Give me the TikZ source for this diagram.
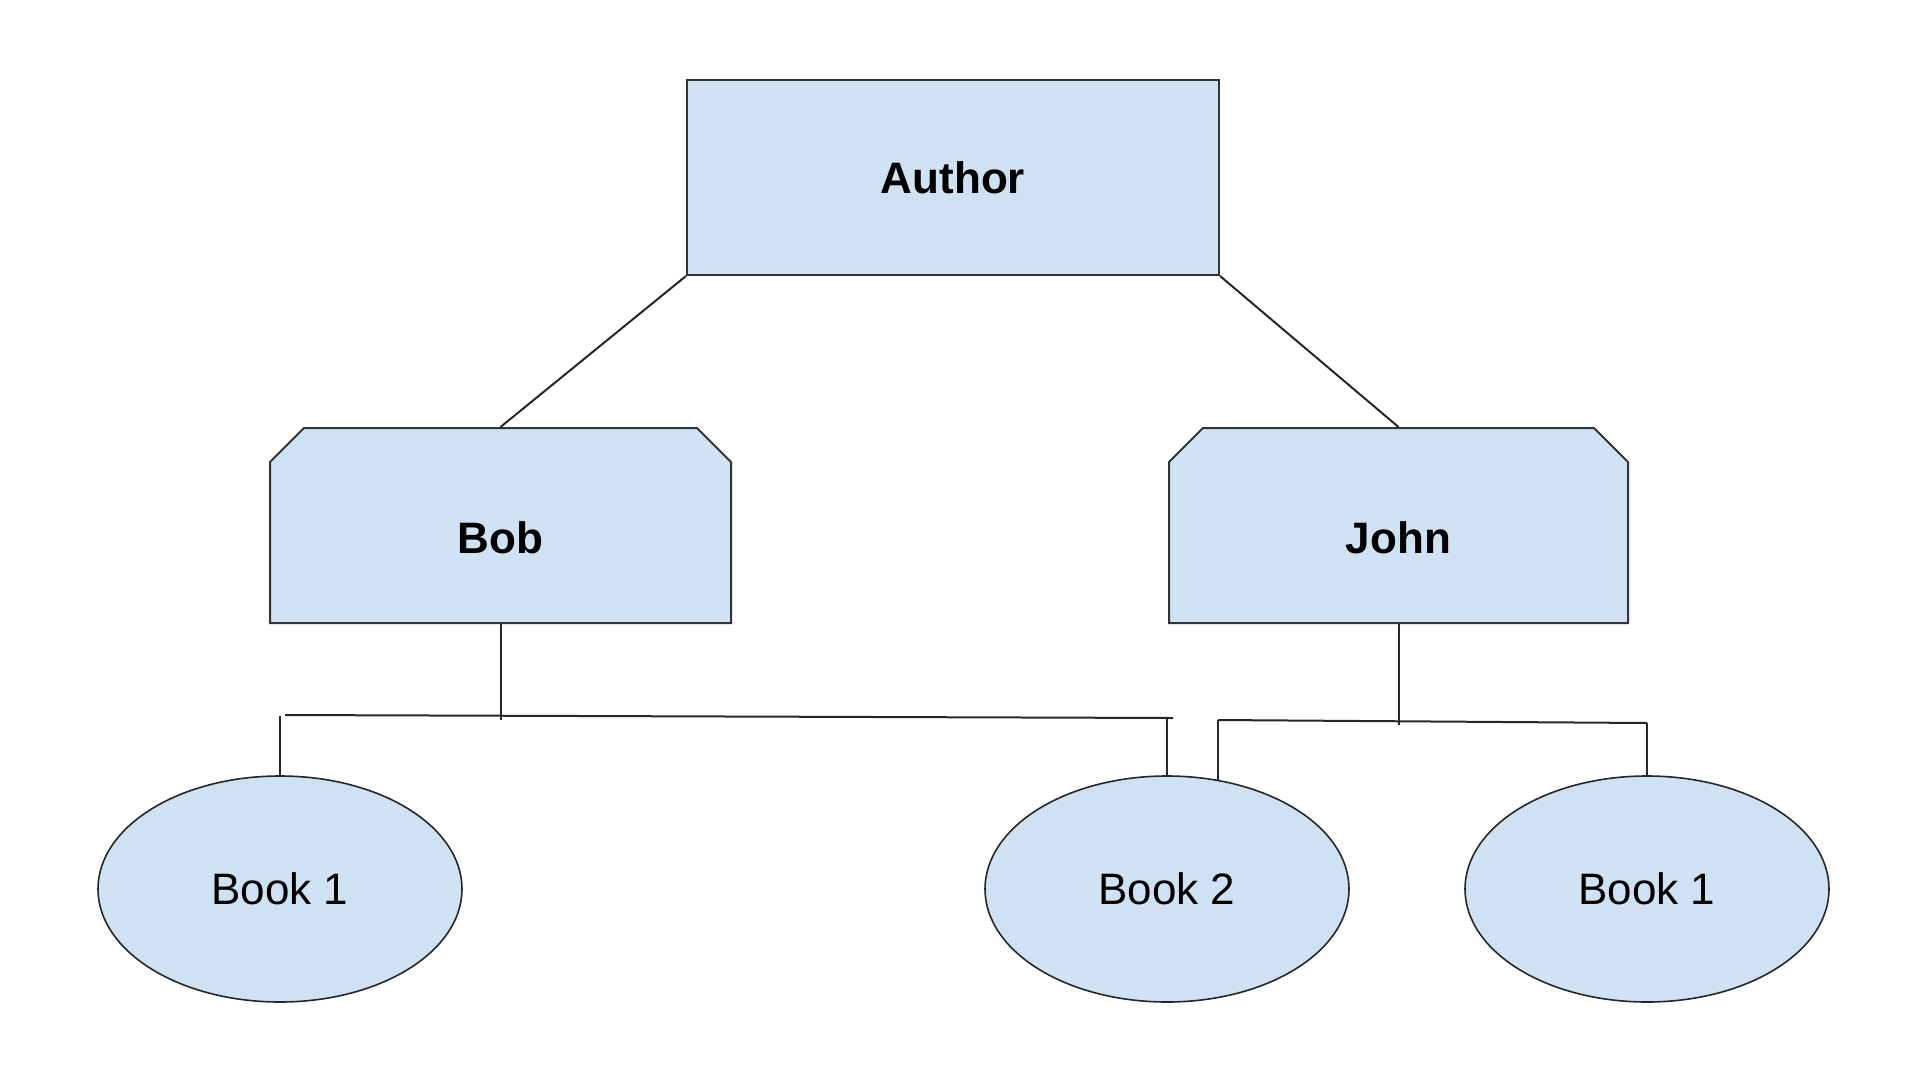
\documentclass[tikz,border=0pt]{standalone}
\usepackage{fontspec}
\setmainfont{Liberation Sans}
\usetikzlibrary{shapes.geometric,shapes.misc}
\definecolor{boxblue}{HTML}{CFE2F3}
\definecolor{edgegray}{HTML}{333333}

\begin{document}
\begin{tikzpicture}[x=1pt,y=-1pt,
  box/.style={draw=edgegray,fill=boxblue,line width=2pt,inner sep=0pt,font=\fontsize{44}{53}\selectfont\bfseries},
  chambox/.style={box,chamfered rectangle,chamfered rectangle corners={north west,north east},chamfered rectangle xsep=17pt,chamfered rectangle ysep=17pt,minimum height=195,text height=56pt,text depth=0pt},
  book/.style={ellipse,draw=black!85,fill=boxblue,line width=1.6pt,inner sep=0pt,minimum width=364,minimum height=226,font=\fontsize{44}{53}\selectfont},
  link/.style={draw=black!85,line width=2pt}]
\useasboundingbox (0,0) rectangle (1920,1080);
\node[box,rectangle,minimum width=532,minimum height=195] (author) at (953,177.5) {Author};
\node[chambox,minimum width=461] (bob) at (500.5,525.5) {Bob};
\node[chambox,minimum width=459] (john) at (1398.5,525.5) {John};
\foreach \n/\x/\t in {book1/280/Book 1,book2/1167/Book 2,book3/1647/Book 1}
    \node[book] (\n) at (\x,889) {\t};
\draw[link] (author.south west) -- (bob.north);
\draw[link] (author.south east) -- (john.north);
% Bob's branches
\coordinate (bm) at (500.5,720);
\coordinate (bl) at (285,715);
\coordinate (br) at (1173,718);
\coordinate (bl1) at (280,716);
\coordinate (br1) at (1167,718);
\draw[link] (bob.south) -- (bm);
\draw[link] (bl) -- (br);
\draw[link] (bl1) -- (book1.north);
\draw[link] (br1) -- (book2.north);
% John's branches
\coordinate (jm) at (1398.5,725);
\coordinate (jl) at (1218,720);
\coordinate (jr) at (1647,723);
\coordinate (jb2) at (1218,781);
\draw[link] (john.south) -- (jm);
\draw[link] (jl) -- (jr);
\draw[link] (jl) -- (jb2);
\draw[link] (jr) -- (book3.north);
\end{tikzpicture}
\end{document}
